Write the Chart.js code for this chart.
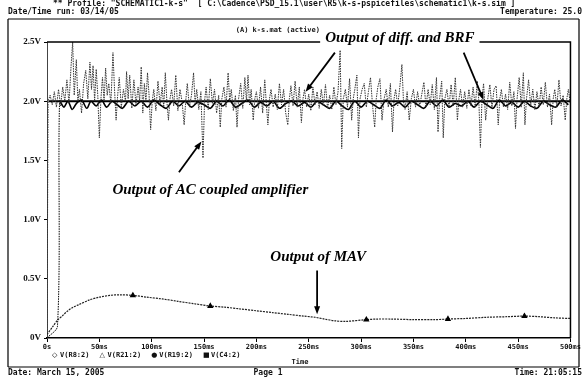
<!DOCTYPE html>
<html lang="en">
<head>
<meta charset="UTF-8">
<title>PSpice k-s</title>
<script src="https://cdn.jsdelivr.net/npm/chart.js"></script>
<style>
  html, body { margin: 0; padding: 0; background: #fff; }
</style>
</head>
<body>
<canvas id="myChart" width="582" height="378"></canvas>
<script>
// x axis (time, ms) and y axis (volts) tick labels
const xTickLabels = ['0s', '50ms', '100ms', '150ms', '200ms', '250ms', '300ms', '350ms', '400ms', '450ms', '500ms'];
const yTickLabels = ['0V', '0.5V', '1.0V', '1.5V', '2.0V', '2.5V'];
const traceNames = ['V(R8:2)', 'V(R21:2)', 'V(R19:2)', 'V(C4:2)'];
const traceSymbols = ['\u25C7', '\u25B3', '\u25CF', '\u25A0'];

// output of AC coupled amplifier [ms, V]
const acPoints = [[0,0],[1,2.0],[3,2.05],[5,1.97],[7,2.08],[9,1.95],[11,2.1],[13,1.96],[15,2.12],[17,2.0],[19,2.18],[21,1.98],[23,2.3],[24.5,2.5],[26,2.05],[28,2.35],[29.5,2.0],[31,2.1],[33,1.9],[35,2.15],[37,2.26],[39,2.02],[41,2.33],[42.5,2.1],[44,2.3],[45.5,2.0],[47,2.27],[48.5,2.05],[50,1.69],[51.5,2.02],[53,2.2],[54.5,2.0],[56,2.28],[57.5,2.05],[59,2.15],[61,1.98],[63,2.41],[64.5,2.1],[66,1.84],[67.5,2.05],[69,2.2],[71,1.95],[73,2.1],[75,2.0],[76,2.25],[77.5,2.02],[79,2.22],[81,1.94],[83,2.18],[85,1.97],[87,2.12],[88.5,2.0],[90,2.29],[91.5,1.9],[93,2.15],[94.5,2.0],[96,2.24],[97.5,2.05],[99,1.76],[100.5,2.0],[102,2.1],[104,1.92],[106,2.17],[108,1.97],[110,2.12],[111.5,1.95],[113,2.24],[114.5,2.0],[116,1.84],[117.5,2.02],[119,2.1],[121,1.96],[123,2.22],[125,1.92],[127,2.1],[129,2.0],[131,1.8],[132.5,2.0],[134,2.15],[136,1.95],[138,2.05],[140,2.24],[141.5,1.98],[143,2.1],[145,1.93],[147,2.08],[149,1.52],[150.5,2.0],[152,2.12],[154,1.93],[156,2.19],[158,1.98],[160,2.1],[162,1.9],[164,2.05],[165.5,1.78],[167,2.02],[169,2.12],[171,1.95],[173,2.24],[174.5,2.0],[176,2.1],[178,1.92],[180,2.05],[181.5,1.78],[183,2.02],[185,2.15],[187,1.94],[189,2.2],[190.5,2.0],[192,2.22],[193.5,1.97],[195,2.1],[197,1.84],[198.5,2.02],[200,2.08],[202,1.94],[204,2.12],[206,1.9],[208,2.18],[209.5,1.98],[211,1.8],[212.5,2.02],[214,2.1],[216,1.95],[218,2.06],[220,1.93],[222,2.15],[224,1.97],[226,2.1],[228,1.9],[230,1.8],[231.5,2.02],[233,2.13],[235,1.96],[237,2.17],[239,1.95],[241,2.12],[243,1.82],[244.5,2.02],[246,2.1],[248,1.95],[250,2.06],[252,1.92],[254,2.12],[256,1.97],[258,2.08],[260,1.94],[262,2.1],[264,1.96],[266,2.14],[268,1.94],[270,2.05],[272,1.93],[274,2.12],[276,1.97],[278,2.08],[280,2.43],[281.5,1.6],[283,2.02],[285,2.1],[287,1.95],[289,2.19],[291,1.84],[292.5,2.02],[294,2.1],[296,2.22],[297.5,1.69],[299,2.02],[301,2.1],[303,2.15],[305,1.95],[307,2.08],[309,2.2],[311,1.96],[313,1.78],[314.5,2.02],[316,2.12],[318,2.19],[320,1.84],[322,2.02],[324,2.1],[326,1.95],[328,2.15],[330,1.74],[331.5,2.02],[333,2.1],[335,1.96],[337,2.12],[339,2.31],[340.5,2.0],[342,1.93],[344,2.08],[346,1.84],[348,2.02],[350,2.1],[352,1.95],[354,2.08],[356,1.96],[358,2.06],[360,2.16],[362,1.95],[364,2.1],[366,1.97],[368,2.14],[370,1.93],[372,2.2],[373.5,1.74],[375,2.02],[377,2.17],[378.5,1.69],[380,2.02],[382,2.1],[384,1.95],[386,2.14],[388,1.96],[390,2.2],[392,1.84],[393.5,2.02],[395,2.1],[397,1.95],[399,2.08],[401,1.94],[403,2.1],[405,1.96],[407,2.12],[409,1.95],[411,2.17],[412.5,2.0],[414,1.61],[415.5,2.02],[417,2.15],[419,1.84],[421,2.02],[423,2.14],[425,1.95],[427,2.1],[429,2.13],[431,1.8],[432.5,2.02],[434,2.1],[436,1.95],[438,2.06],[440,1.93],[442,2.16],[444,1.96],[446,2.08],[447.5,1.77],[449,2.02],[451,2.2],[453,1.95],[455,2.24],[456.5,1.8],[458,2.02],[460,2.18],[462,1.96],[464,2.1],[466,1.93],[468,2.08],[470,1.95],[472,2.12],[474,1.97],[476,2.16],[478,1.95],[480,2.06],[482,1.8],[483.5,2.02],[485,2.1],[487,1.95],[489,2.18],[491,1.96],[493,2.05],[495,1.84],[496.5,2.02],[498,2.1],[500,1.97]];

// output of differentiator [ms, V]
const diffPoints = [[0,0],[10,0.1],[12,2.0],[16,1.95],[20,2.0],[24,1.93],[28,1.98],[33,2.01],[38,1.94],[42,2.0],[47,1.96],[52,2.01],[57,1.95],[62,2.0],[67,1.97],[72,1.94],[78,2.0],[84,1.96],[90,2.0],[96,1.95],[102,2.01],[108,1.97],[114,1.94],[120,2.0],[126,1.96],[132,2.0],[138,1.95],[144,1.99],[150,1.97],[156,1.94],[162,2.0],[168,1.96],[174,2.01],[180,1.95],[186,1.98],[192,2.01],[198,1.95],[204,1.99],[210,1.96],[216,2.0],[222,1.94],[228,1.98],[234,2.0],[240,1.96],[246,1.99],[252,1.95],[258,2.0],[264,1.97],[270,1.94],[276,2.0],[282,1.96],[288,1.93],[294,2.0],[300,1.95],[306,2.0],[312,1.97],[318,1.94],[324,2.01],[330,1.96],[336,1.99],[342,1.95],[348,2.0],[354,1.97],[360,1.94],[366,2.0],[372,1.96],[378,2.01],[384,1.95],[390,1.98],[396,1.96],[402,2.0],[408,1.95],[414,2.0],[420,1.97],[426,1.94],[432,2.01],[438,1.96],[444,1.99],[450,1.95],[456,2.0],[462,1.96],[468,1.94],[474,2.0],[480,1.97],[486,1.95],[492,2.01],[498,1.97]];

// output of band-reject filter [ms, V]
const brfPoints = [[1.5,2.0],[500,2.0]];

// output of MAV [ms, V]
const mavPoints = [[0,0.03],[5,0.09],[10,0.15],[15,0.19],[20,0.23],[25,0.26],[30,0.28],[40,0.32],[50,0.345],[60,0.36],[70,0.365],[82,0.36],[95,0.345],[110,0.33],[125,0.31],[140,0.29],[156,0.27],[170,0.26],[185,0.245],[200,0.23],[215,0.215],[230,0.2],[245,0.185],[256,0.175],[265,0.16],[275,0.145],[285,0.14],[305,0.155],[315,0.16],[330,0.16],[350,0.155],[370,0.155],[383,0.16],[400,0.165],[420,0.175],[440,0.18],[456,0.185],[470,0.18],[485,0.17],[500,0.165]];
const mavMarkers = [82, 156, 305, 383, 456];

// callout texts and arrows, in data units [ms, V]
const notes = [
    { text: 'Output of diff. and BRF', t: 337, v: 2.53 },
    { text: 'Output of AC coupled amplifier', t: 156, v: 1.25 },
    { text: 'Output of MAV', t: 259, v: 0.68 }
];
const arrows = [[275, 2.41, 247, 2.08], [398, 2.41, 417, 2.01], [126, 1.40, 147.5, 1.66], [258, 0.57, 258, 0.2]];

function toXY(points) {
    return points.map(p => ({ x: p[0], y: p[1] }));
}

const mono = '"DejaVu Sans Mono", monospace';

const pagePlugin = {
    id: 'page',
    beforeDraw(chart) {
        const c = chart.ctx;
        c.save();
        c.fillStyle = '#fff';
        c.fillRect(0, 0, chart.width, chart.height);
        c.restore();
    },
    afterDraw(chart) {
        const c = chart.ctx;
        const a = chart.chartArea;
        const xs = chart.scales.x, ys = chart.scales.y;
        c.save();

        // header
        c.fillStyle = '#111';
        c.textBaseline = 'middle';
        c.font = 'bold 8px ' + mono;
        c.textAlign = 'left';
        c.fillText('** Profile: "SCHEMATIC1-k-s"  [ C:\\Cadence\\PSD_15.1\\user\\R5\\k-s-pspicefiles\\schematic1\\k-s.sim ]', 53, 4);
        c.fillText('Date/Time run: 03/14/05', 8, 12);
        c.textAlign = 'right';
        c.fillText('Temperature: 25.0', 582, 12);

        // page frame
        c.strokeStyle = '#000';
        c.lineWidth = 1.2;
        c.beginPath();
        c.moveTo(8, 19); c.lineTo(579, 19);
        c.moveTo(8, 19); c.lineTo(8, 367);
        c.moveTo(579, 19); c.lineTo(579, 367);
        c.moveTo(8, 367); c.lineTo(579, 367);
        c.stroke();

        c.font = 'bold 7px ' + mono;
        c.textAlign = 'right';
        c.fillText('(A) k-s.mat (active)', 320, 30);

        // plot top and right border
        c.lineWidth = 1.5;
        c.beginPath();
        c.moveTo(a.left, a.top); c.lineTo(a.right, a.top); c.lineTo(a.right, a.bottom);
        c.stroke();

        // trace legend under the axis
        let lx = 52;
        c.textAlign = 'left';
        traceNames.forEach((name, i) => {
            c.font = '7px "DejaVu Sans"';
            c.fillText(traceSymbols[i], lx, 355);
            lx += 8;
            c.font = 'bold 7px ' + mono;
            c.fillText(name, lx, 355);
            lx += c.measureText(name).width + 10;
        });
        c.textAlign = 'center';
        c.fillText('Time', 300, 362);

        // footer
        c.font = 'bold 8px ' + mono;
        c.textAlign = 'left';
        c.fillText('Date: March 15, 2005', 8, 373);
        c.textAlign = 'center';
        c.fillText('Page 1', 268, 373);
        c.textAlign = 'right';
        c.fillText('Time: 21:05:15', 582, 373);

        // callouts
        c.font = 'bold italic 15px "Liberation Serif"';
        c.textAlign = 'center';
        notes.forEach(n => {
            const px = xs.getPixelForValue(n.t), py = ys.getPixelForValue(n.v);
            const w = c.measureText(n.text).width;
            c.fillStyle = '#fff';
            c.fillRect(px - w / 2 - 5, py - 9, w + 10, 18);
            c.fillStyle = '#000';
            c.fillText(n.text, px, py);
        });
        c.strokeStyle = '#000';
        c.fillStyle = '#000';
        c.lineWidth = 1.8;
        arrows.forEach(ar => {
            const x1 = xs.getPixelForValue(ar[0]), y1 = ys.getPixelForValue(ar[1]);
            const x2 = xs.getPixelForValue(ar[2]), y2 = ys.getPixelForValue(ar[3]);
            const ang = Math.atan2(y2 - y1, x2 - x1);
            c.beginPath();
            c.moveTo(x1, y1);
            c.lineTo(x2 - 6 * Math.cos(ang), y2 - 6 * Math.sin(ang));
            c.stroke();
            c.beginPath();
            c.moveTo(x2, y2);
            c.lineTo(x2 - 8 * Math.cos(ang) + 3 * Math.sin(ang), y2 - 8 * Math.sin(ang) - 3 * Math.cos(ang));
            c.lineTo(x2 - 8 * Math.cos(ang) - 3 * Math.sin(ang), y2 - 8 * Math.sin(ang) + 3 * Math.cos(ang));
            c.closePath();
            c.fill();
        });
        c.restore();
    }
};

const ctx = document.getElementById('myChart').getContext('2d');
const myChart = new Chart(ctx, {
    type: 'line',
    data: {
        datasets: [
            {
                label: traceNames[0],
                data: toXY(acPoints),
                borderColor: '#333',
                borderWidth: 1,
                borderDash: [1.5, 1],
                pointRadius: 0,
                tension: 0
            },
            {
                label: traceNames[1],
                data: toXY(diffPoints),
                borderColor: '#000',
                borderWidth: 1.6,
                pointRadius: 0,
                tension: 0.3,
                segment: {
                    // the start-up rise is printed dotted
                    borderDash: s => s.p0.parsed.y < 1.5 ? [1.5, 1] : undefined,
                    borderWidth: s => s.p0.parsed.y < 1.5 ? 1 : undefined
                }
            },
            {
                label: traceNames[2],
                data: toXY(brfPoints),
                borderColor: '#000',
                borderWidth: 2,
                pointRadius: 0,
                tension: 0
            },
            {
                label: traceNames[3],
                data: toXY(mavPoints),
                borderColor: '#222',
                borderWidth: 1.2,
                borderDash: [2, 1],
                pointStyle: 'triangle',
                pointBackgroundColor: '#000',
                pointBorderColor: '#000',
                pointRadius: c => mavMarkers.includes(c.raw && c.raw.x) ? 2.5 : 0,
                tension: 0.3
            }
        ]
    },
    options: {
        responsive: false,
        animation: false,
        layout: { padding: { left: 0, right: 6, top: 42, bottom: 0 } },
        plugins: {
            legend: { display: false },
            tooltip: { enabled: false }
        },
        scales: {
            x: {
                type: 'linear',
                min: 0,
                max: 500,
                afterFit: s => { s.height = 40; },
                ticks: {
                    stepSize: 50,
                    autoSkip: false,
                    maxRotation: 0,
                    padding: 1,
                    color: '#111',
                    font: { family: 'DejaVu Sans Mono', size: 7, weight: 'bold' },
                    callback: (v) => xTickLabels[Math.round(v / 50)]
                },
                grid: { drawOnChartArea: false, tickLength: 4, color: '#000' },
                border: { color: '#000', width: 1.5 }
            },
            y: {
                min: 0,
                max: 2.5,
                afterFit: s => { s.width = 47; },
                ticks: {
                    stepSize: 0.5,
                    padding: 3,
                    color: '#111',
                    font: { family: 'Liberation Serif', size: 9, weight: 'bold' },
                    callback: (v) => yTickLabels[Math.round(v / 0.5)]
                },
                grid: { drawOnChartArea: false, tickLength: 3, color: '#000' },
                border: { color: '#444', width: 1, dash: [1, 1] }
            }
        }
    },
    plugins: [pagePlugin]
});
</script>
</body>
</html>
